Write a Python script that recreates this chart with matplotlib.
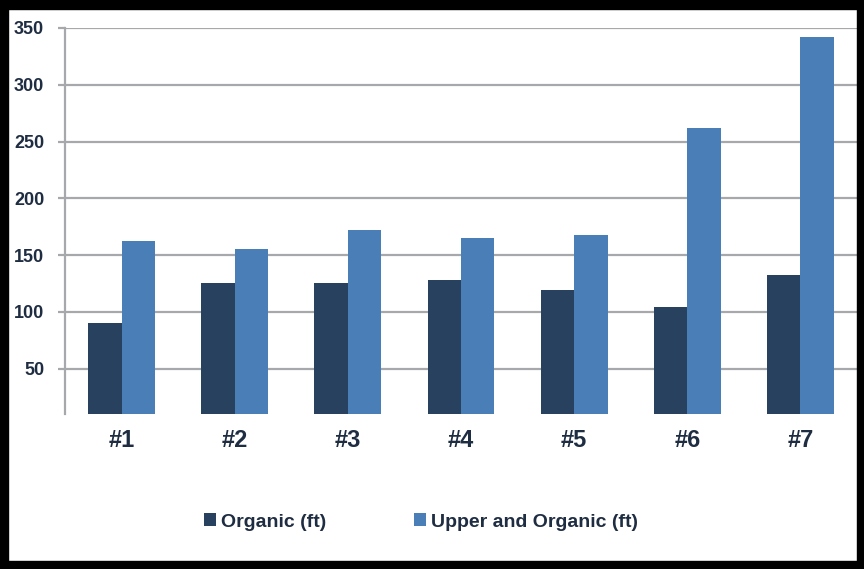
import matplotlib
matplotlib.use("Agg")
import matplotlib.pyplot as plt
from matplotlib.patches import Patch, Rectangle
import numpy as np

categories = ["#1", "#2", "#3", "#4", "#5", "#6", "#7"]
organic = [90, 125, 125, 128, 119, 104, 132]
upper_and_organic = [162, 155, 172, 165, 168, 262, 342]
series_names = ["Organic (ft)", "Upper and Organic (ft)"]
y_ticks = [50, 100, 150, 200, 250, 300, 350]

dark_blue = "#27415F"
light_blue = "#4A7EB6"
text_color = "#1F2D42"
grid_color = "#A6A8AB"

W, H = 864, 569
fig = plt.figure(figsize=(W / 100, H / 100), dpi=100)
fig.patch.set_facecolor("white")

ax = fig.add_axes([65 / W, 1 - 414 / H, (857 - 65) / W, (414 - 28) / H])
x = np.arange(len(categories))
bw = 0.296
ax.bar(x - bw / 2, organic, width=bw, color=dark_blue, zorder=3)
ax.bar(x + bw / 2, upper_and_organic, width=bw, color=light_blue, zorder=3)

ax.set_xlim(-0.5, len(categories) - 0.5)
ax.set_ylim(10, 350)
ax.set_yticks(y_ticks)
ax.set_yticklabels([str(v) for v in y_ticks])
ax.set_xticks(x)
ax.set_xticklabels(categories)

ax.yaxis.grid(True, color=grid_color, linewidth=1.6, zorder=0)
for s in ["top", "right", "bottom"]:
    ax.spines[s].set_visible(False)
ax.spines["left"].set_color(grid_color)
ax.spines["left"].set_linewidth(1.6)

ax.tick_params(axis="y", length=5, width=1.6, color=grid_color, pad=10,
               labelcolor=text_color, labelsize=13)
ax.tick_params(axis="x", length=0, pad=11, labelcolor=text_color, labelsize=17)
for lab in ax.get_yticklabels():
    lab.set_family("Liberation Sans")
    lab.set_fontweight("bold")
for lab in ax.get_xticklabels():
    lab.set_family("Liberation Sans")
    lab.set_fontweight("bold")

handles = [Patch(facecolor=dark_blue), Patch(facecolor=light_blue)]
fig.legend(handles, series_names, loc="center", ncol=2,
           bbox_to_anchor=(421 / W, 1 - 522 / H), frameon=False,
           prop={"family": "Liberation Sans", "weight": "bold", "size": 14},
           handlelength=0.62, handleheight=0.62, handletextpad=0.28,
           columnspacing=4.5, labelcolor=text_color)

# thick black frame around the whole figure
frame_px = [(0, 0, W, 8), (0, H - 9, W, 9), (0, 0, 8, H), (W - 7, 0, 7, H)]
for (px, py, pw, ph) in frame_px:
    fig.patches.append(Rectangle((px / W, py / H), pw / W, ph / H,
                                 transform=fig.transFigure, color="black",
                                 zorder=10))

fig.savefig("out.png", dpi=100)
